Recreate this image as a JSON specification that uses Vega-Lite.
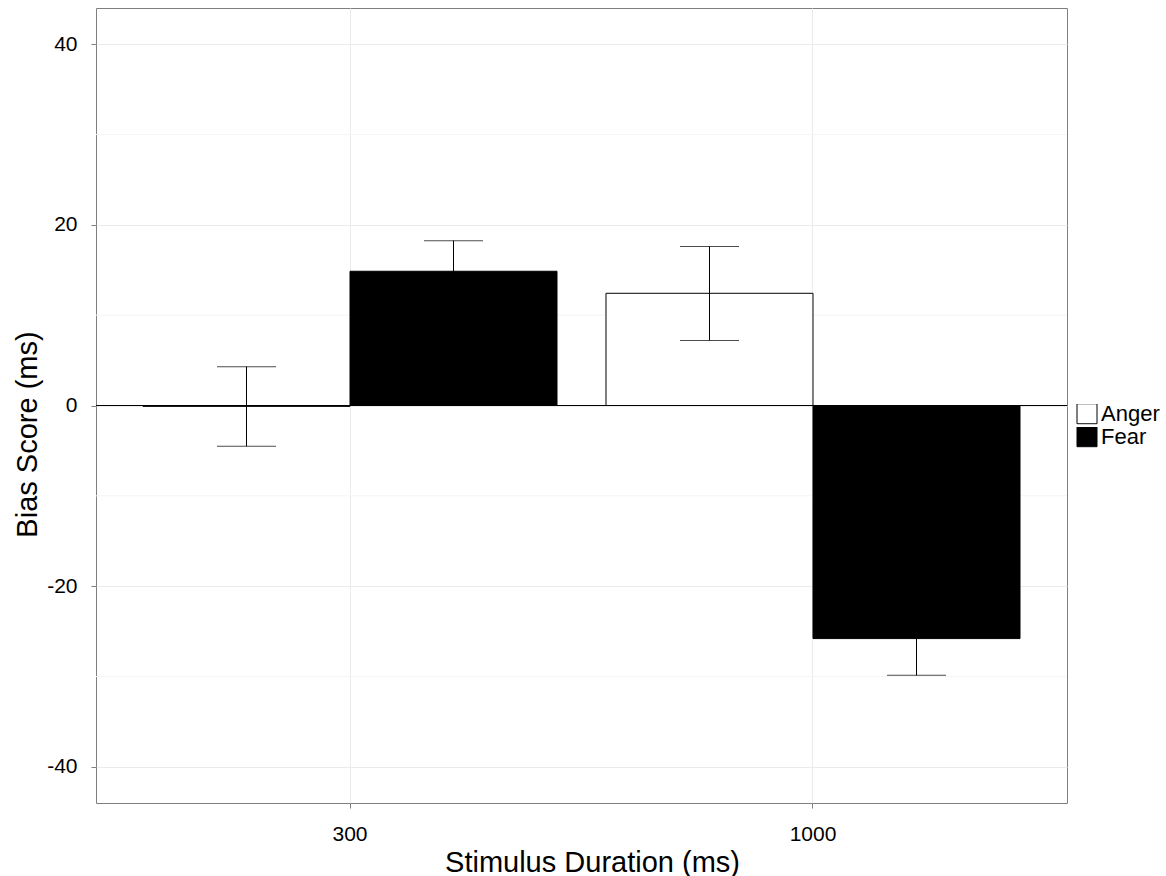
{
  "$schema": "https://vega.github.io/schema/vega-lite/v6.json",
  "autosize": "none",
  "width": 971,
  "height": 795,
  "padding": {"left": 96, "top": 8, "right": 99, "bottom": 73},
  "background": "white",
  "config": {
    "font": "Liberation Sans",
    "view": {"stroke": "#7f7f7f", "strokeWidth": 1},
    "axis": {
      "domain": false,
      "tickColor": "#7f7f7f",
      "tickSize": 5,
      "labelColor": "black",
      "titleColor": "black",
      "labelFontSize": 21,
      "titleFontSize": 29,
      "titleFontWeight": "normal",
      "gridColor": "#ebebeb",
      "gridWidth": 1
    }
  },
  "datasets": {
    "bars": [
      {"duration": "300", "emotion": "Anger", "mean": -0.1, "lo": -4.5, "hi": 4.3},
      {"duration": "300", "emotion": "Fear", "mean": 14.86, "lo": 11.47, "hi": 18.25},
      {"duration": "1000", "emotion": "Anger", "mean": 12.42, "lo": 7.19, "hi": 17.6},
      {"duration": "1000", "emotion": "Fear", "mean": -25.8, "lo": -29.87, "hi": -21.73}
    ],
    "minor": [{"v": -30}, {"v": -10}, {"v": 10}, {"v": 30}]
  },
  "layer": [
    {
      "data": {"name": "minor"},
      "mark": {"type": "rule", "color": "#f5f5f5", "strokeWidth": 1},
      "encoding": {"y": {"field": "v", "type": "quantitative"}}
    },
    {
      "data": {"name": "bars"},
      "mark": {"type": "bar", "stroke": "black", "strokeWidth": 1},
      "encoding": {
        "x": {"field": "duration", "type": "nominal", "sort": ["300", "1000"],
              "scale": {"paddingInner": 0.1058, "paddingOuter": 0.1015},
              "axis": {"title": "Stimulus Duration (ms)", "labelAngle": 0, "grid": true, "labelPadding": 15, "titlePadding": 4, "titleX": 496, "titleAlign": "center"}},
        "xOffset": {"field": "emotion", "type": "nominal", "sort": ["Anger", "Fear"]},
        "y": {"field": "mean", "type": "quantitative",
              "scale": {"domain": [-44, 44], "nice": false, "zero": false},
              "axis": {"title": "Bias Score (ms)", "values": [-40, -20, 0, 20, 40], "labelExpr": "toString(datum.value)", "grid": true, "labelPadding": 14, "titlePadding": 4, "titleY": 426, "titleAlign": "center"}},
        "fill": {"field": "emotion", "type": "nominal",
                 "scale": {"domain": ["Anger", "Fear"], "range": ["white", "black"]},
                 "legend": {"title": null, "orient": "none", "legendX": 980, "legendY": 396,
                            "symbolType": "square", "symbolSize": 400, "symbolStrokeColor": "black",
                            "symbolStrokeWidth": 1, "labelFontSize": 22, "labelColor": "black",
                            "rowPadding": 0, "clipHeight": 19.5, "padding": 0, "labelOffset": 3}}
      }
    },
    {
      "data": {"values": [{}]},
      "mark": {"type": "rule", "color": "black", "strokeWidth": 1},
      "encoding": {"y": {"datum": 0}}
    },
    {
      "data": {"name": "bars"},
      "mark": {"type": "rule", "color": "black", "strokeWidth": 1},
      "encoding": {
        "x": {"field": "duration", "type": "nominal", "sort": ["300", "1000"]},
        "xOffset": {"field": "emotion", "type": "nominal", "sort": ["Anger", "Fear"]},
        "y": {"field": "lo", "type": "quantitative"},
        "y2": {"field": "hi"}
      }
    },
    {
      "data": {"name": "bars"},
      "mark": {"type": "tick", "color": "black", "size": 59, "thickness": 1, "orient": "horizontal"},
      "encoding": {
        "x": {"field": "duration", "type": "nominal", "sort": ["300", "1000"]},
        "xOffset": {"field": "emotion", "type": "nominal", "sort": ["Anger", "Fear"]},
        "y": {"field": "hi", "type": "quantitative"}
      }
    },
    {
      "data": {"name": "bars"},
      "mark": {"type": "tick", "color": "black", "size": 59, "thickness": 1, "orient": "horizontal"},
      "encoding": {
        "x": {"field": "duration", "type": "nominal", "sort": ["300", "1000"]},
        "xOffset": {"field": "emotion", "type": "nominal", "sort": ["Anger", "Fear"]},
        "y": {"field": "lo", "type": "quantitative"}
      }
    }
  ]
}
